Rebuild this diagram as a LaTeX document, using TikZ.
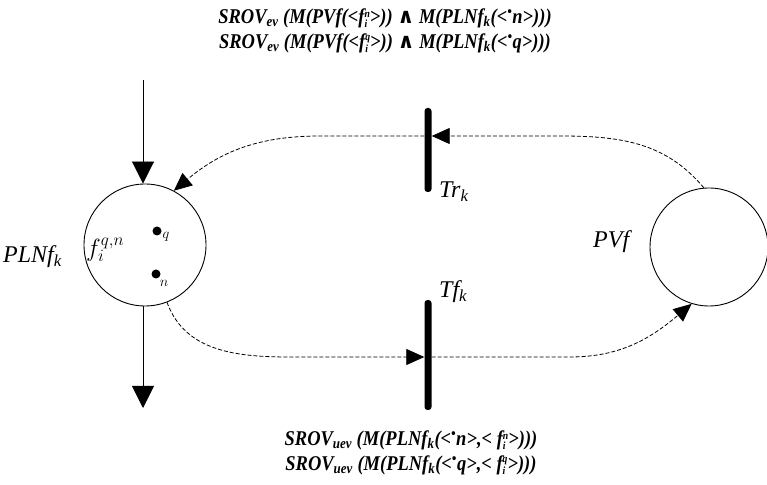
\documentclass[tikz,border=0pt]{standalone}
\usepackage{fontspec}
\setmainfont{Liberation Serif}
\newfontfamily\condfnt[FakeStretch=0.88]{Liberation Serif}
\newfontfamily\symfnt{DejaVu Sans}
\usetikzlibrary{arrows.meta}
\newcommand\ffin[1]{f{\fontsize{11}{11}\selectfont\raisebox{-0.32em}{\shortstack[l]{#1\\[-1pt]i}}}}
\newcommand\bdot{\textsuperscript{•}}
\tikzset{
  place/.style={circle,draw,line width=0.9pt,inner sep=0pt},
  bar/.style={rectangle,fill=black,rounded corners=3pt,minimum width=7pt,inner sep=0pt},
  flow/.style={line width=0.8pt,dash pattern=on 4pt off 2pt,-{Triangle[length=18pt,width=16pt]}},
  solidarrow/.style={line width=0.9pt,-{Triangle[length=22pt,width=22pt]}},
  lbl/.style={font=\fontsize{24}{26}\selectfont\itshape,inner sep=0pt},
  formula/.style={font=\condfnt\fontsize{21}{25}\selectfont\bfseries\itshape,align=center,inner sep=0pt},
  tokendot/.style={circle,fill=black,minimum size=9pt,inner sep=0pt}
}
\begin{document}
\begin{tikzpicture}[x=1pt,y=1pt]
\useasboundingbox (0,0) rectangle (767,484);
% places
\node[place,minimum size=122pt] (P) at (145,239) {};
\node[place,minimum size=118pt] (V) at (709,237) {};
% transitions
\node[bar,minimum height=84pt] (Tr) at (428,334) {};
\node[bar,minimum height=110pt] (Tf) at (428,129) {};
% labels
\node[lbl,anchor=base west] (lP) at (3,221) {PLNf\textsubscript{k}};
\node[lbl,anchor=base west] (lV) at (593,236) {PVf};
\node[lbl,anchor=base west] (lTr) at (439,286) {Tr\textsubscript{k}};
\node[lbl,anchor=base west] (lTf) at (439,186) {Tf\textsubscript{k}};
\node[anchor=base west,inner sep=0pt,font=\fontsize{25}{27}\selectfont] (fi) at (86,227) {$f_i^{q,n}$};
\node[tokendot] (dq) at (157,253) {};
\node[tokendot] (dn) at (156,210) {};
\node[inner sep=0pt,font=\fontsize{15}{16}\selectfont] (lq) at (166,247) {$q$};
\node[inner sep=0pt,font=\fontsize{15}{16}\selectfont] (ln) at (164,201) {$n$};
% formulas
\node[formula] (top) at (385,453) {SROV\textsubscript{ev} (M(PVf(<\ffin{n}>)) {\symfnt\bfseries ∧} M(PLNf\textsubscript{k}(<\bdot n>)))\\
SROV\textsubscript{ev} (M(PVf(<\ffin{q}>)) {\symfnt\bfseries ∧} M(PLNf\textsubscript{k}(<\bdot q>)))};
\node[formula] (bot) at (411,31) {SROV\textsubscript{uev} (M(PLNf\textsubscript{k}(<\bdot n>,< \ffin{n}>)))\\
SROV\textsubscript{uev} (M(PLNf\textsubscript{k}(<\bdot q>,< \ffin{q}>)))};
% input / output arcs
\coordinate (inS) at (143,404);
\coordinate (outE) at (143,76);
\draw[solidarrow] (inS) -- (inS |- P.north);
\draw[solidarrow] (P.south -| outE) -- (outE);
% dashed arcs
\coordinate (a1) at (560,348);
\coordinate (a2) at (320,348);
\coordinate (b1) at (290,127);
\coordinate (b2) at (570,127);
\draw[flow] (V.95) to[out=130,in=0] (a1) -- (Tr.east |- a1);
\draw[flow] (Tr.west |- a2) -- (a2) to[out=180,in=40] (P.62);
\draw[flow] (P.-69) to[out=-70,in=180] (b1) -- (Tf.west |- b1);
\draw[flow] (Tf.east |- b2) -- (b2) to[out=0,in=-140] (V.-107);
\end{tikzpicture}
\end{document}
